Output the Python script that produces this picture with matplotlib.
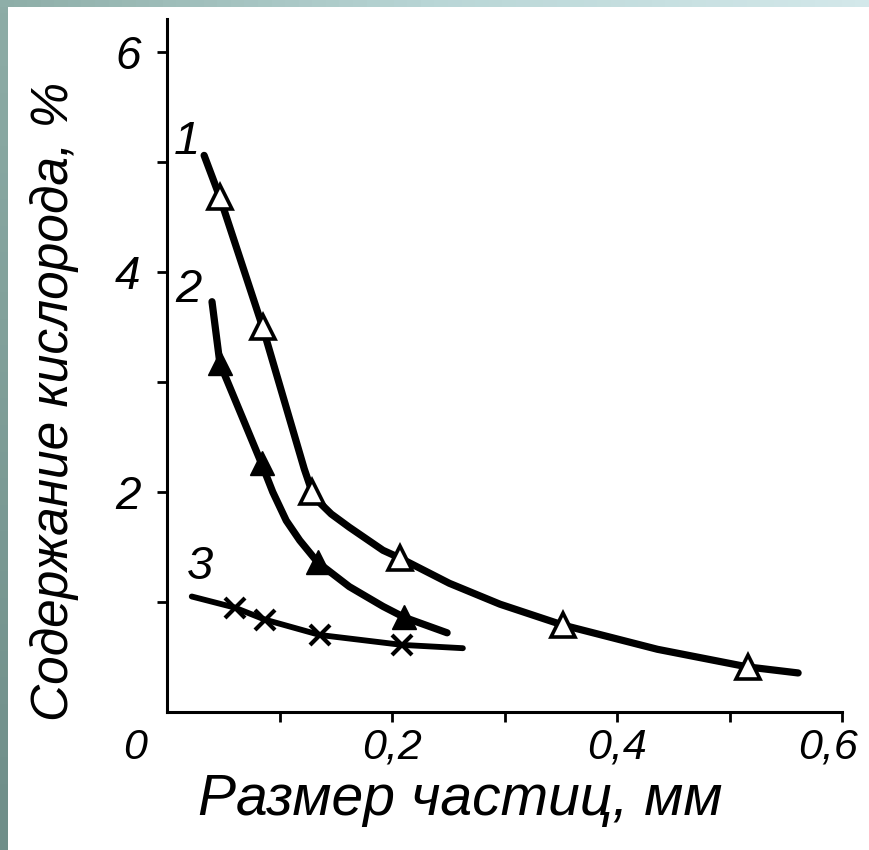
import numpy as np
import matplotlib
matplotlib.use("Agg")
import matplotlib.pyplot as plt
import matplotlib.transforms as mtransforms
from matplotlib.colors import LinearSegmentedColormap

plt.rcParams['font.family'] = ['Liberation Sans', 'DejaVu Sans']

# Curve 1 (open triangles): line and markers
c1_line_x = [0.033, 0.047, 0.085, 0.122, 0.129, 0.136, 0.146, 0.162, 0.192, 0.207, 0.251, 0.296, 0.352, 0.436, 0.516, 0.561]
c1_line_y = [5.06, 4.68, 3.50, 2.21, 2.00, 1.90, 1.80, 1.68, 1.47, 1.40, 1.17, 0.98, 0.79, 0.57, 0.41, 0.355]
c1_pts_x = [0.047, 0.085, 0.129, 0.207, 0.352, 0.516]
c1_pts_y = [4.68, 3.50, 2.00, 1.40, 0.79, 0.41]

# Curve 2 (filled triangles)
c2_line_x = [0.040, 0.047, 0.084, 0.094, 0.106, 0.118, 0.134, 0.162, 0.192, 0.211, 0.249]
c2_line_y = [3.73, 3.17, 2.26, 2.00, 1.74, 1.56, 1.36, 1.14, 0.96, 0.86, 0.72]
c2_pts_x = [0.047, 0.084, 0.134, 0.211]
c2_pts_y = [3.17, 2.26, 1.36, 0.86]

# Curve 3 (crosses)
c3_line_x = [0.022, 0.060, 0.087, 0.136, 0.209, 0.263]
c3_line_y = [1.05, 0.95, 0.84, 0.70, 0.61, 0.58]
c3_pts_x = [0.060, 0.087, 0.136, 0.209]
c3_pts_y = [0.95, 0.84, 0.70, 0.61]

curve_labels = ["1", "2", "3"]
label_x = [0.018, 0.019, 0.029]
label_y = [5.18, 3.84, 1.32]

xticks = [0.1, 0.2, 0.3, 0.4, 0.5, 0.6]
xticklabels = ["", "0,2", "", "0,4", "", "0,6"]
yticks = [1, 2, 3, 4, 5, 6]
yticklabels = ["", "2", "", "4", "", "6"]

fig = plt.figure(figsize=(8.69, 8.50), dpi=100)
fig.patch.set_facecolor("white")

# slide-style border strips
left = fig.add_axes([0, 0, 8 / 869, 1])
left.imshow(np.linspace(0, 1, 64).reshape(-1, 1), aspect="auto",
            cmap=LinearSegmentedColormap.from_list("l", ["#8daca6", "#6f8e89"]))
left.axis("off")
top = fig.add_axes([0, 1 - 7 / 850, 1, 7 / 850])
top.imshow(np.linspace(0, 1, 64).reshape(1, -1), aspect="auto",
           cmap=LinearSegmentedColormap.from_list("t", ["#8eaea8", "#b9d6d6", "#d3e8ea"]))
top.axis("off")

ax = fig.add_axes([167 / 869, 138 / 850, 675 / 869, 693 / 850])
ax.set_xlim(0, 0.6)
ax.set_ylim(0, 6.3)

lw = 5.2
ax.plot(c1_line_x, c1_line_y, color="black", lw=lw, solid_capstyle="round",
        solid_joinstyle="round")
ax.plot(c2_line_x, c2_line_y, color="black", lw=lw, solid_capstyle="round",
        solid_joinstyle="round")
ax.plot(c3_line_x, c3_line_y, color="black", lw=4.2, solid_capstyle="round",
        solid_joinstyle="round")

ax.plot(c1_pts_x, c1_pts_y, ls="none", marker="^", ms=17, mfc="white",
        mec="black", mew=2.6, zorder=3)
ax.plot(c2_pts_x, c2_pts_y, ls="none", marker="^", ms=17, mfc="black",
        mec="black", zorder=3)
ax.plot(c3_pts_x, c3_pts_y, ls="none", marker="x", ms=15, mec="black",
        mew=3.0, zorder=3)

for t, x, y in zip(curve_labels, label_x, label_y):
    ax.text(x, y, t, fontsize=34, style="italic", ha="center", va="center")

for s in ["top", "right"]:
    ax.spines[s].set_visible(False)
for s in ["left", "bottom"]:
    ax.spines[s].set_linewidth(2.2)

ax.set_xticks(xticks)
ax.set_xticklabels(xticklabels)
ax.set_yticks(yticks)
ax.set_yticklabels(yticklabels)
ax.tick_params(axis="x", direction="out", length=7, width=2, pad=4, labelsize=31)
ax.tick_params(axis="y", direction="out", length=7, width=2, pad=12, labelsize=33)
for lab in ax.get_xticklabels() + ax.get_yticklabels():
    lab.set_style("italic")

# last x label sits a little left of its tick, as in the scan
shift = mtransforms.ScaledTranslation(-10 / 72, 0, fig.dpi_scale_trans)
last = ax.get_xticklabels()[-1]
last.set_transform(last.get_transform() + shift)

# origin label sits left of the corner
fig.text(135 / 869, 1 - 748 / 850, "0", fontsize=31, style="italic",
         ha="center", va="center")

fig.text(55 / 869, 1 - 401 / 850, "Содержание кислорода, %", rotation=90,
         fontsize=37, style="italic", ha="center", va="center")
fig.text(460 / 869, 1 - 800 / 850, "Размер частиц, мм", fontsize=41,
         style="italic", ha="center", va="center")

fig.savefig("out.png", dpi=100)
